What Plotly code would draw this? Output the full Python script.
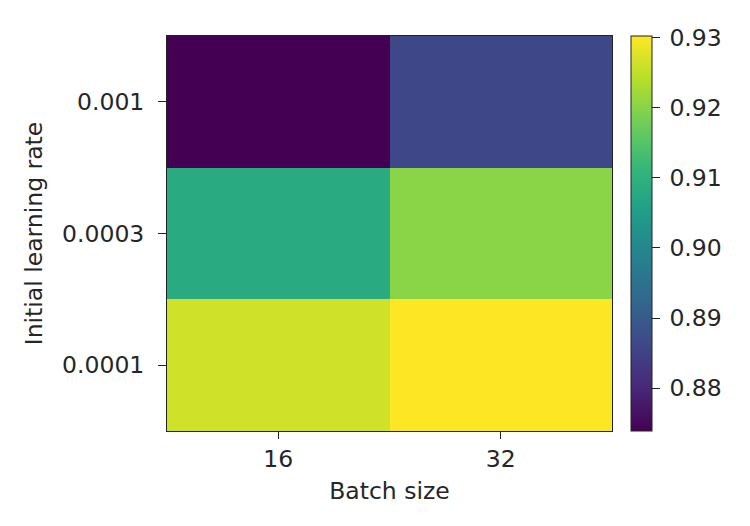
import plotly.graph_objects as go

batch_sizes = ["16", "32"]
learning_rates = ["0.001", "0.0003", "0.0001"]
# rows: learning rates (top to bottom), cols: batch sizes
acc_bs16 = [0.8739, 0.9082, 0.9263]
acc_bs32 = [0.8863, 0.9201, 0.9302]
cbar_ticks = [0.88, 0.89, 0.90, 0.91, 0.92, 0.93]

z = [[a, b] for a, b in zip(acc_bs16, acc_bs32)]

font = dict(family="DejaVu Sans", size=23.5, color="#262626")

fig = go.Figure(go.Heatmap(
    x=batch_sizes, y=learning_rates, z=z,
    colorscale="Viridis",
    zmin=min(min(acc_bs16), min(acc_bs32)),
    zmax=max(max(acc_bs16), max(acc_bs32)),
    xgap=0, ygap=0,
    colorbar=dict(
        x=1.02, xanchor="left", xref="paper", xpad=10,
        y=0.5, yanchor="middle", len=1.0, lenmode="fraction", ypad=0,
        thickness=21, thicknessmode="pixels",
        outlinewidth=1, outlinecolor="#222",
        tickvals=cbar_ticks, ticktext=[f"\u2009{v:.2f}" for v in cbar_ticks],
        ticks="outside", ticklen=8, tickcolor="#222", tickwidth=1,
        tickfont=font,
    ),
))

fig.update_layout(
    width=750, height=526,
    margin=dict(l=159, r=146, t=28, b=103),
    paper_bgcolor="white", plot_bgcolor="white",
    font=font,
)
fig.update_xaxes(
    title=dict(text="Batch size", font=font, standoff=10),
    showline=True, linecolor="#222", linewidth=1, mirror=True,
    ticks="outside", ticklen=7, tickcolor="#222", tickfont=font,
    ticklabelstandoff=0,
    showgrid=False, zeroline=False,
)
fig.update_yaxes(
    title=dict(text="Initial learning rate", font=font, standoff=12),
    autorange="reversed",
    showline=True, linecolor="#222", linewidth=1, mirror=True,
    ticks="outside", ticklen=8, tickcolor="#222", tickfont=font,
    ticklabelstandoff=9,
    showgrid=False, zeroline=False,
)

fig.write_html("out.html")
